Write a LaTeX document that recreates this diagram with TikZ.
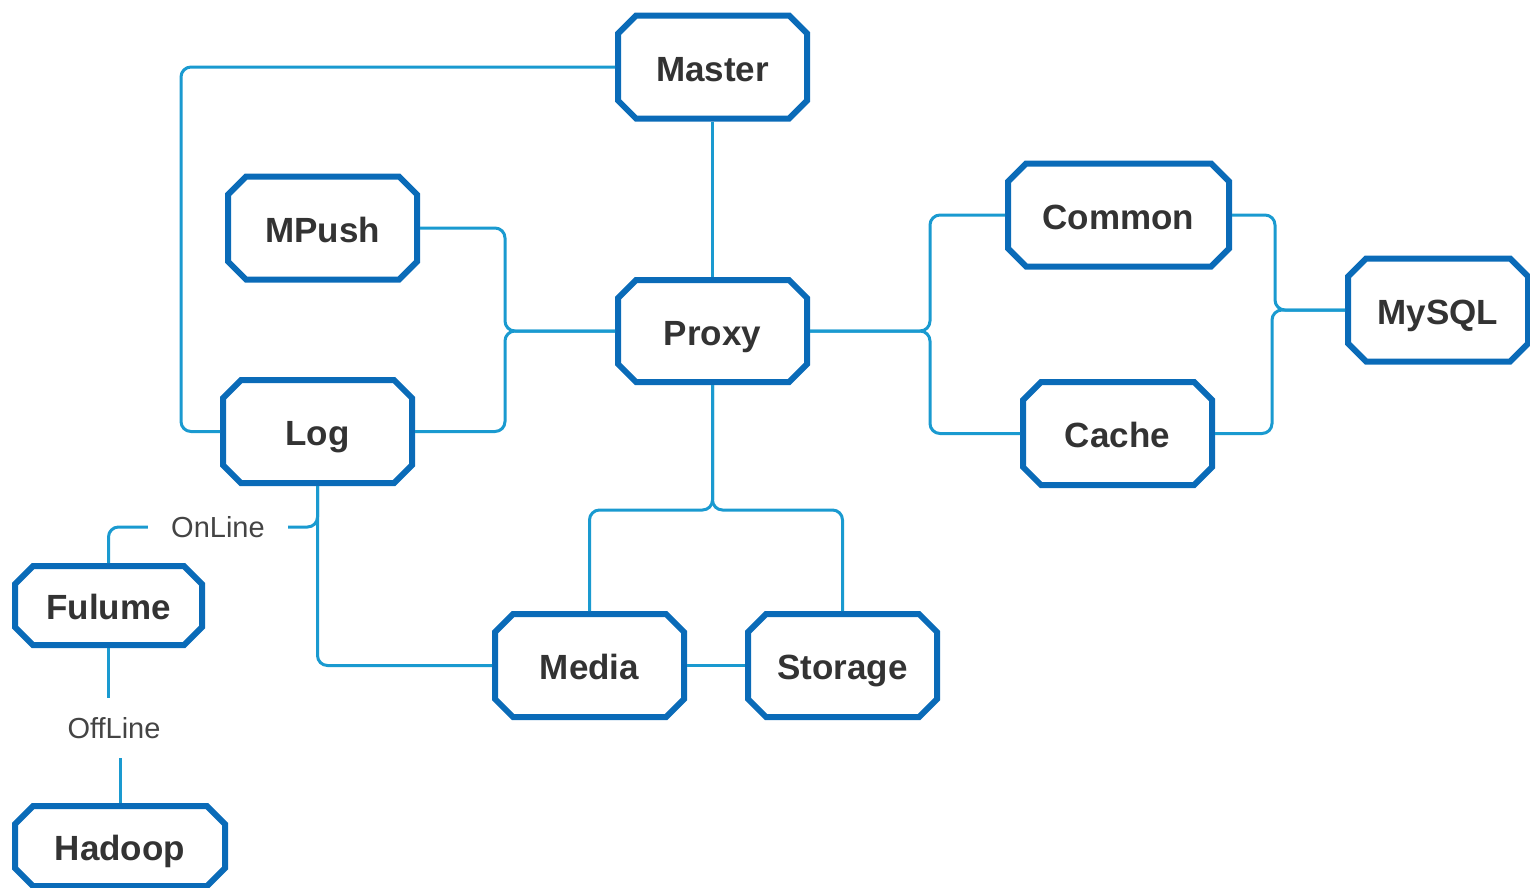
\documentclass[tikz,border=0pt]{standalone}
\usepackage{fontspec}
\setmainfont{Liberation Sans}
\usetikzlibrary{shapes.misc}
\definecolor{boxblue}{HTML}{0A6BB8}
\definecolor{linkblue}{HTML}{1A9AD0}
\definecolor{txt}{HTML}{333333}
\definecolor{lbl}{HTML}{444444}
\tikzset{
  box/.style={chamfered rectangle, chamfered rectangle xsep=9pt, chamfered rectangle ysep=9pt,
    draw=boxblue, line width=6pt, fill=white, text=txt, inner sep=0pt,
    minimum width=189pt, minimum height=103pt, text height=28pt, text depth=0pt,
    font=\fontsize{35}{42}\selectfont\bfseries},
  link/.style={draw=linkblue, line width=3pt, rounded corners=10pt},
  tag/.style={text=lbl, font=\fontsize{29}{34}\selectfont, inner sep=0pt}
}
\begin{document}
\begin{tikzpicture}[x=1pt,y=-1pt]
\useasboundingbox (0,0) rectangle (1530,887);
\node[box] (master) at (712.5,67) {Master};
\node[box] (mpush) at (322.5,228) {MPush};
\node[box, minimum height=102pt] (proxy) at (712.5,331) {Proxy};
\node[box, minimum width=221pt] (common) at (1118.5,215) {Common};
\node[box, minimum width=180pt] (mysql) at (1438,310) {MySQL};
\node[box] (log) at (317.5,431.5) {Log};
\node[box] (cache) at (1117.5,433.5) {Cache};
\node[box, minimum width=187pt, minimum height=79pt] (fulume) at (108.5,605.5) {Fulume};
\node[box] (media) at (589.5,665.5) {Media};
\node[box] (storage) at (842.5,665.5) {Storage};
\node[box, minimum width=210pt, minimum height=80pt] (hadoop) at (120,846) {Hadoop};
\node[tag, minimum width=140pt, minimum height=30pt] (online) at (218,527) {OnLine};
\node[tag, minimum height=59pt] (offline) at (114,728) {OffLine};

\draw[link] (master.west) -- ++(-434,0) |- (log.west);
\draw[link] (master.south) -- (proxy.north);
\draw[link] (mpush.east) -- ++(85,0) |- (proxy.west);
\draw[link] (log.east) -- ++(90,0) |- (proxy.west);
\draw[link] (proxy.east) -- ++(120,0) |- (common.west);
\draw[link] (proxy.east) -- ++(120,0) |- (cache.west);
\draw[link] (common.east) -- ++(43,0) |- (mysql.west);
\draw[link] (cache.east) -- ++(57,0) |- (mysql.west);
\draw[link] (proxy.south) -- ++(0,125) -| (media.north);
\draw[link] (proxy.south) -- ++(0,125) -| (storage.north);
\draw[link] (log.south) |- (media.west);
\draw[link] (log.south) |- (online.east);
\draw[link] (online.west) -| (fulume.north);
\draw[link] (media.east) -- (storage.west);
\draw[link] (fulume.south) -- (fulume.south |- offline.north);
\draw[link] (hadoop.north) -- (hadoop.north |- offline.south);
\end{tikzpicture}
\end{document}
